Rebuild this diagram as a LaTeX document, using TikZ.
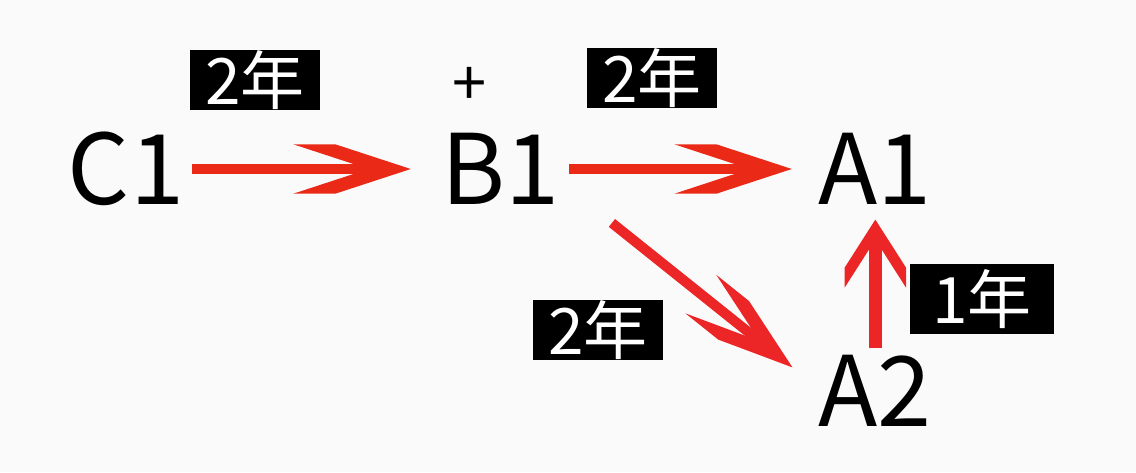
\documentclass[tikz,border=0pt]{standalone}
\usepackage{fontspec}
\setmainfont{Noto Sans CJK SC}
\usetikzlibrary{arrows.meta}
\definecolor{bgpaper}{RGB}{250,250,251}
\definecolor{arrowred}{RGB}{234,42,22}
\definecolor{arrowpink}{RGB}{236,38,38}
% chevron head, ends cut parallel to the shaft
\pgfdeclarearrow{
	name = Chevron,
	parameters = {\the\pgfarrowlength,\the\pgfarrowwidth,\the\pgfarrowinset},
	setup code = {
		\pgfarrowssettipend{0pt}
		\pgfarrowssetlineend{-\pgfarrowinset}
		\pgfarrowssetbackend{-\pgfarrowlength}
		\pgfarrowssavethe\pgfarrowlength
		\pgfarrowssavethe\pgfarrowwidth
		\pgfarrowssavethe\pgfarrowinset
	},
	drawing code = {
		\pgfpathmoveto{\pgfpointorigin}
		\pgfpathlineto{\pgfpoint{\pgfarrowinset-\pgfarrowlength}{.5\pgfarrowwidth}}
		\pgfpathlineto{\pgfpoint{-\pgfarrowlength}{.5\pgfarrowwidth}}
		\pgfpathlineto{\pgfpoint{-\pgfarrowinset}{0pt}}
		\pgfpathlineto{\pgfpoint{-\pgfarrowlength}{-.5\pgfarrowwidth}}
		\pgfpathlineto{\pgfpoint{\pgfarrowinset-\pgfarrowlength}{-.5\pgfarrowwidth}}
		\pgfpathclose
		\pgfusepathqfill
	},
	defaults = {length=10pt, width=8pt, inset=4pt}
}
\tikzstyle{letter} = [inner sep=0pt,
	font=\fontsize{73}{73}\selectfont,
	text=black
	]
\tikzstyle{year} = [rectangle,
	minimum width=97.5pt,
	minimum height=45pt,
	inner sep=0pt,
	fill=black,
	text=white,
	font=\fontsize{48}{48}\selectfont
	]
\tikzstyle{arrow} = [line width=7.5pt,
	draw=arrowred,
	-{Chevron[length=88pt, width=37pt, inset=31.5pt]}
	]
\tikzstyle{uparrow} = [line width=9.5pt,
	draw=arrowpink,
	-{Chevron[length=51pt, width=46pt, inset=15pt]}
	]
\begin{document}
\begin{tikzpicture}[x=0.75pt, y=-0.75pt, node distance=281pt]

\fill [bgpaper] (0,0) rectangle (1136,472);
\useasboundingbox (0,0) rectangle (1136,472);

\node (C1) [letter] at (126,169) {C1};
\node (B1) [letter, right of=C1] {B1};
\node (A1) [letter, right of=B1] {A1};
\node (A2) [letter, below of=A1, node distance=166pt] {A2};
\node (plus) [font=\fontsize{46}{46}\selectfont] at (470,86) {+};

\node (yCB) [year] at (255,80) {2年};
\node (yBA) [year] at (652,78) {2年};
\node (yBAtwo) [year] at (598,330) {2年};
\node (yAA) [year, minimum width=108pt, minimum height=52.5pt] at (982,299) {1年};

\draw [arrow, shorten <=6pt, shorten >=23pt] (C1) -- (B1);
\draw [arrow, shorten <=7pt, shorten >=20pt] (B1) -- (A1);
\draw [arrow, draw=arrowpink] ([shift={(52,18)}]B1.south east) -- ([shift={(-26,13)}]A2.north west);
\draw [uparrow, shorten <=4.5pt, shorten >=11pt] (A2) -- (A1);

\end{tikzpicture}
\end{document}
